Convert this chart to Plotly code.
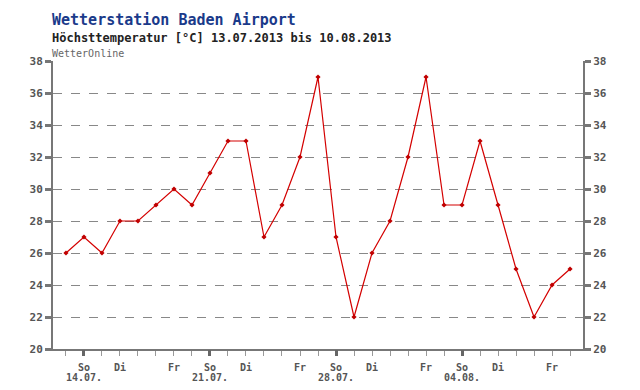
import plotly.graph_objects as go

dates = ["13.07.","14.07.","15.07.","16.07.","17.07.","18.07.","19.07.","20.07.","21.07.","22.07.",
         "23.07.","24.07.","25.07.","26.07.","27.07.","28.07.","29.07.","30.07.","31.07.","01.08.",
         "02.08.","03.08.","04.08.","05.08.","06.08.","07.08.","08.08.","09.08.","10.08."]
weekdays = ["Sa","So","Mo","Di","Mi","Do","Fr"]
temps = [26, 27, 26, 28, 28, 29, 30, 29, 31, 33, 33, 27, 29, 32, 37, 27, 22, 26, 28, 32,
         37, 29, 29, 33, 29, 25, 22, 24, 25]
y_ticks = [20, 22, 24, 26, 28, 30, 32, 34, 36, 38]

x = list(range(len(temps)))
label_vals, label_text, sunday_vals, sunday_text = [], [], [], []
for i, d in enumerate(dates):
    wd = weekdays[i % 7]
    if wd in ("So", "Di", "Fr"):
        label_vals.append(i); label_text.append(wd)
    if wd == "So":
        sunday_vals.append(i); sunday_text.append(d)

font_mono = "DejaVu Sans Mono"
axis_gray = "#777777"
label_gray = "#555555"

fig = go.Figure()
fig.add_trace(go.Scatter(x=x, y=temps, mode="lines+markers",
                         line=dict(color="#d40000", width=1.2),
                         marker=dict(color="#c00000", size=4, symbol="diamond"),
                         hoverinfo="skip", showlegend=False))
fig.add_trace(go.Scatter(x=[x[0]], y=[temps[0]], yaxis="y2", xaxis="x2", mode="markers",
                         marker=dict(opacity=0), showlegend=False, hoverinfo="skip"))

xr = [-0.72, len(temps) - 1 + 0.72]
yr = [20, 38]

L, R, T, B = 53, 57, 61, 41
fig.update_layout(
    width=640, height=390,
    margin=dict(l=L, r=R, t=T, b=B, autoexpand=False),
    paper_bgcolor="white", plot_bgcolor="white",
    font=dict(family=font_mono, color=label_gray),
    xaxis=dict(range=xr, tickmode="array", tickvals=label_vals, ticktext=label_text,
               ticks="outside", ticklen=5, tickwidth=1, tickcolor="#999999",
               minor=dict(dtick=1, tick0=0, ticks="outside", ticklen=5, tickcolor="#999999", tickwidth=1),
               showgrid=False, zeroline=False, showline=True, linecolor=axis_gray, linewidth=2,
               tickfont=dict(family=font_mono, size=10, color=label_gray, weight="bold"),
               ticklabelstandoff=3, automargin=False),
    xaxis2=dict(range=xr, overlaying="x", tickmode="array", tickvals=sunday_vals, ticktext=sunday_text,
                ticks="outside", ticklen=6, tickwidth=3, tickcolor="#666666", side="bottom",
                showgrid=False, zeroline=False, showline=False, showticklabels=True,
                ticklabelstandoff=13, automargin=False,
                tickfont=dict(family=font_mono, size=10, color=label_gray, weight="bold")),
    yaxis=dict(range=yr, tickvals=y_ticks, ticks="outside", ticklen=6, tickwidth=3, tickcolor=axis_gray,
               showgrid=True, gridcolor="#888888", griddash="dash", gridwidth=1,
               zeroline=False, showline=True, linecolor=axis_gray, linewidth=2, automargin=False,
               tickfont=dict(family=font_mono, size=11, color=label_gray, weight="bold")),
    yaxis2=dict(range=yr, tickvals=y_ticks, overlaying="y", side="right", ticks="outside", ticklen=6,
                tickwidth=3, tickcolor=axis_gray, showgrid=False, zeroline=False, showline=True,
                linecolor=axis_gray, linewidth=2, anchor="x2", automargin=False,
                tickfont=dict(family=font_mono, size=11, color=label_gray, weight="bold")),
)

plot_h = 390 - T - B
plot_w = 640 - L - R
def ann(text, px, py, size, color):
    fig.add_annotation(text=text, xref="paper", yref="paper",
                       x=(px - L) / plot_w, y=((390 - py) - B) / plot_h,
                       showarrow=False, xanchor="left", yanchor="middle",
                       font=dict(family=font_mono, size=size, color=color))

ann("<b>Wetterstation Baden Airport</b>", 50, 20, 15, "#1a3a8a")
ann("<b>Höchsttemperatur [°C] 13.07.2013 bis 10.08.2013</b>", 50, 38, 12, "#222222")
ann("WetterOnline", 50, 53, 10, "#666666")

fig.write_html("out.html", config={"displayModeBar": False},
               post_script="document.body.style.margin='0';document.body.style.overflow='hidden';")
